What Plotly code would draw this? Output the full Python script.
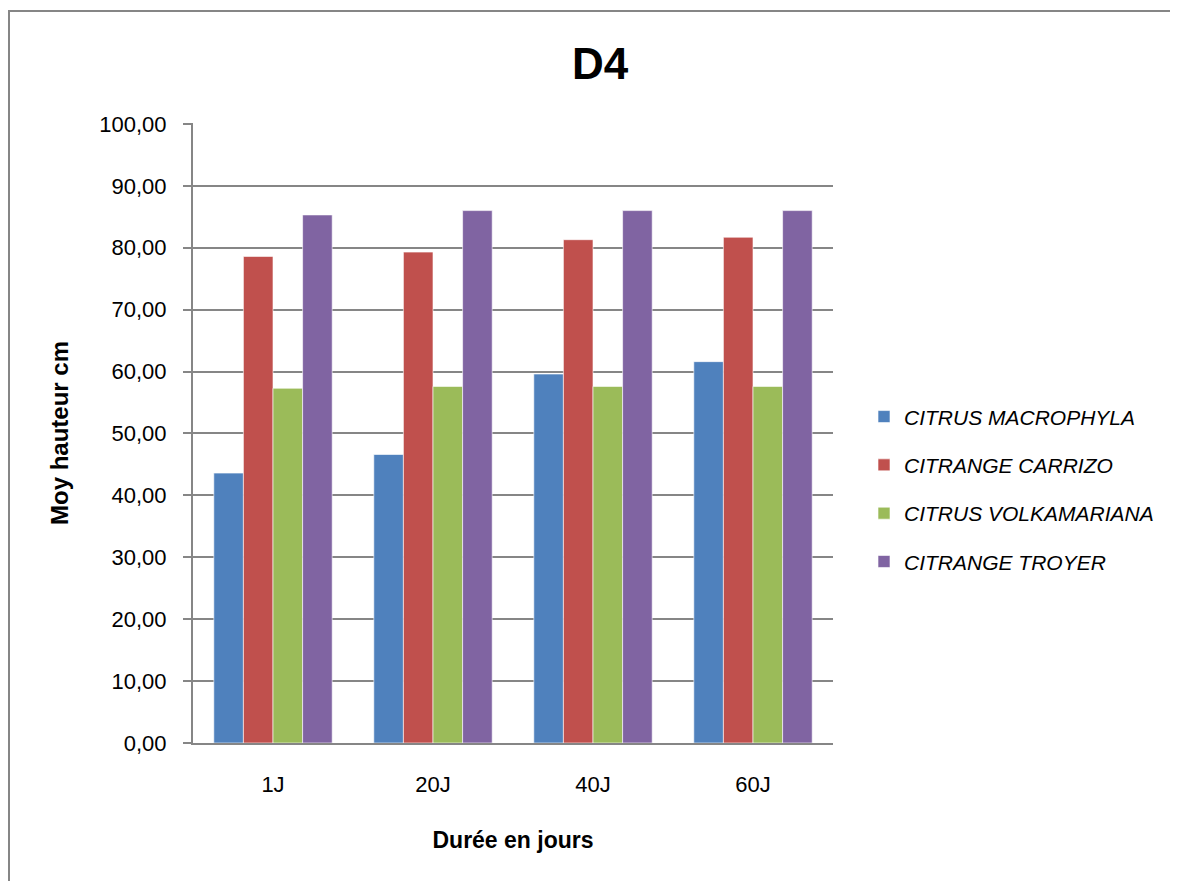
import plotly.graph_objects as go

categories = ["1J", "20J", "40J", "60J"]
series_names = ["CITRUS MACROPHYLA", "CITRANGE CARRIZO", "CITRUS VOLKAMARIANA", "CITRANGE TROYER"]
macrophyla = [43.6, 46.6, 59.6, 61.6]
carrizo = [78.6, 79.3, 81.3, 81.7]
volkamariana = [57.3, 57.6, 57.6, 57.6]
troyer = [85.3, 86.0, 86.0, 86.0]
colors = ["#4F81BD", "#C0504D", "#9BBB59", "#8064A2"]
y_ticks = [0, 10, 20, 30, 40, 50, 60, 70, 80, 90, 100]

L, T, R, B = 185, 115, 353, 146
W, H = 1178, 881
pw, ph = W - L - R, H - T - B

fig = go.Figure()
for i, (name, vals) in enumerate(zip(series_names, [macrophyla, carrizo, volkamariana, troyer])):
    fig.add_trace(go.Bar(
        x=categories, y=vals, name=name, legendgroup=f"g{i}",
        marker=dict(color=colors[i], line=dict(color="rgba(255,255,255,0.6)", width=1)),
    ))

fig.update_layout(
    width=W, height=H,
    margin=dict(l=L, r=R, t=T, b=B),
    paper_bgcolor="white", plot_bgcolor="white",
    separators=", ",
    barmode="group", bargap=0.26, bargroupgap=0,
    font=dict(family="Liberation Sans, Arial, sans-serif", color="black"),
    title=dict(text="<b>D4</b>", x=592 / W, xanchor="center", y=1 - 56 / H, yanchor="middle",
               font=dict(size=44, color="black")),
    legend=dict(x=(856 - L) / pw, xanchor="left", y=0.409, yanchor="middle",
                font=dict(size=21, style="italic"), tracegroupgap=18,
                traceorder="grouped", itemwidth=30),
    showlegend=True,
)
fig.update_xaxes(
    showline=True, linecolor="#868686", linewidth=2,
    ticks="", tickfont=dict(size=22), ticklabelstandoff=21,
    title=dict(text="<b>Durée en jours</b>", font=dict(size=23), standoff=35),
)
fig.update_yaxes(
    range=[0, 100.15], tickvals=y_ticks, tickformat=".2f",
    showline=True, linecolor="#868686", linewidth=2,
    showgrid=True, gridcolor="#868686", gridwidth=2,
    ticks="outside", ticklen=8, tickcolor="#868686", tickwidth=2,
    tickfont=dict(size=22), ticklabelstandoff=12,
    title=dict(text="<b>Moy hauteur cm</b>", font=dict(size=24), standoff=24),
    zeroline=False,
)
fig.add_shape(type="rect", xref="paper", yref="paper",
              x0=(1 - L) / pw, x1=2.0, y0=-1.0, y1=(H - B - 3) / ph,
              line=dict(color="#868686", width=2), fillcolor="rgba(0,0,0,0)", layer="below")

fig.write_html("out.html")
